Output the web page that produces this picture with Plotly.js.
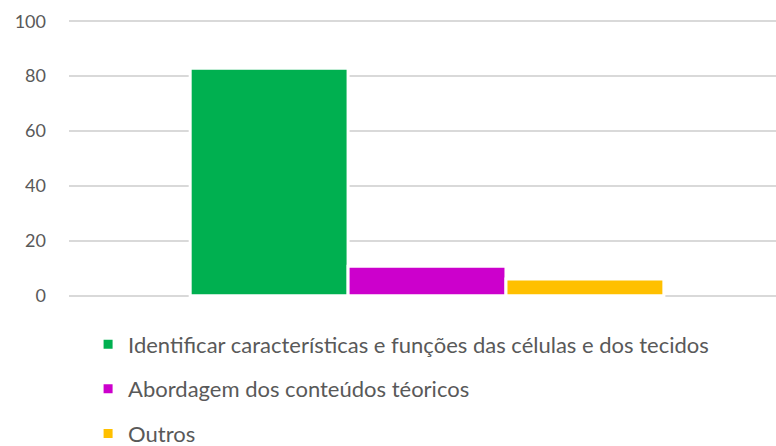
<!DOCTYPE html>
<html>
<head>
<meta charset="utf-8">
<script src="https://cdn.plot.ly/plotly-3.0.1.min.js"></script>
<style>html,body{margin:0;padding:0;background:#fff;}#chart{width:776px;height:446px;}</style>
</head>
<body>
<div id="chart"></div>
<script>
const category = [""];
const seriesNames = [
  "Identificar características e funções das células e dos tecidos",
  "Abordagem dos conteúdos téoricos",
  "Outros"
];
const seriesValues = [82.9, 10.8, 6.1];
const seriesColors = ["#00B050", "#CC00CC", "#FFC000"];
const yTicks = [0, 20, 40, 60, 80, 100];

const traces = seriesNames.map((name, i) => ({
  type: "bar",
  name: name,
  x: category,
  y: [seriesValues[i]],
  legendgroup: "g" + i,
  marker: {color: seriesColors[i], line: {color: "#FFFFFF", width: 3}},
  hoverinfo: "name+y"
}));

const layout = {
  width: 776, height: 446,
  margin: {l: 69, r: 0, t: 18.8, b: 147.8, autoexpand: false},
  paper_bgcolor: "#FFFFFF",
  plot_bgcolor: "#FFFFFF",
  font: {family: "Lato, 'Open Sans', sans-serif", color: "#595959", size: 18},
  barmode: "group",
  bargap: 0.33,
  bargroupgap: 0,
  xaxis: {range: [-0.5064, 0.4936], showticklabels: false, showgrid: false, zeroline: false, showline: false, ticks: ""},
  yaxis: {
    range: [-0.8, 100.8],
    tickvals: yTicks,
    ticktext: yTicks.map(String),
    showgrid: true, gridcolor: "#D9D9D9", gridwidth: 1.5,
    zeroline: false, showline: false, ticks: "",
    ticklabelstandoff: 22,
    tickfont: {size: 18, color: "#595959"}
  },
  showlegend: true,
  legend: {
    orientation: "v",
    x: 0.027, xanchor: "left",
    y: -0.091, yanchor: "top",
    font: {size: 22, color: "#595959"},
    tracegroupgap: 13,
    itemwidth: 30,
    bgcolor: "rgba(0,0,0,0)"
  }
};

Plotly.newPlot("chart", traces, layout, {displayModeBar: false, staticPlot: true});
</script>
</body>
</html>
